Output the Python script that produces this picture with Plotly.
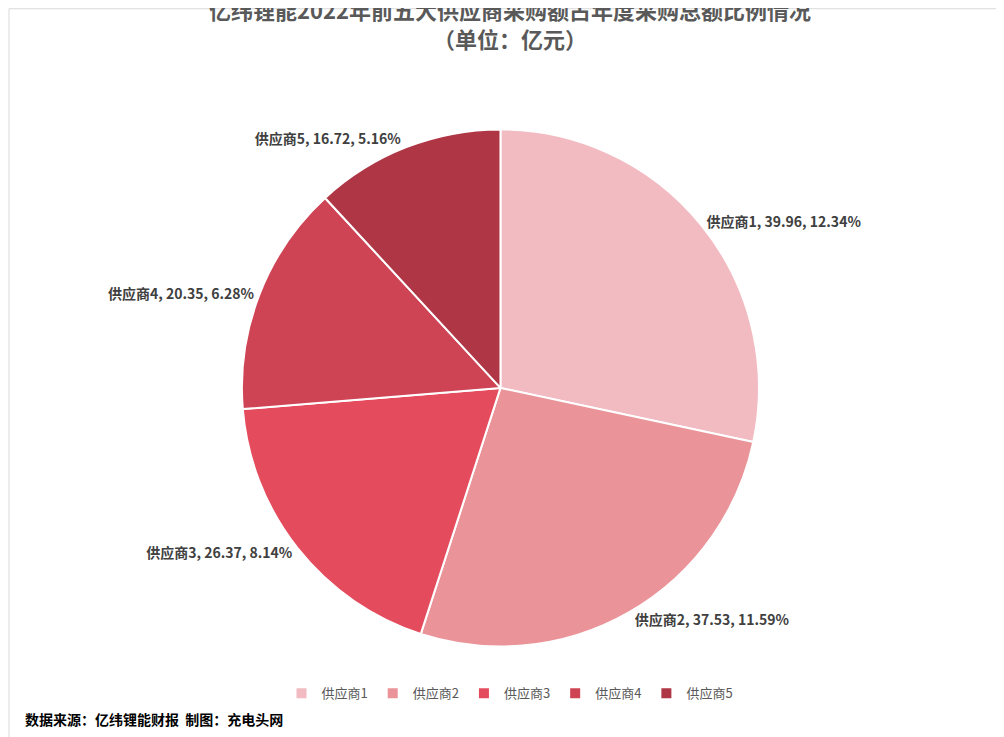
import plotly.graph_objects as go

suppliers = ["供应商1", "供应商2", "供应商3", "供应商4", "供应商5"]
amounts = [39.96, 37.53, 26.37, 20.35, 16.72]
shares = ["12.34%", "11.59%", "8.14%", "6.28%", "5.16%"]
colors = ["#F2BBC1", "#EA9399", "#E44C5E", "#CF4455", "#AE3645"]

texts = [f"<b>{s}, {a:.2f}, {p}</b>" for s, a, p in zip(suppliers, amounts, shares)]

fig = go.Figure(go.Pie(
    labels=suppliers, values=amounts, text=texts, textinfo="text",
    textposition="outside", sort=False, direction="clockwise", rotation=0,
    marker=dict(colors=colors, line=dict(color="white", width=2)),
    textfont=dict(size=14, color="#404040", family="Noto Sans CJK SC"),
    domain=dict(x=[0.233, 0.748], y=[0.133, 0.836]),
))
fig.update_layout(
    width=1004, height=737, margin=dict(l=0, r=0, t=0, b=0),
    paper_bgcolor="white", plot_bgcolor="white",
    font=dict(family="Noto Sans CJK SC"),
    title=dict(text="<b>亿纬锂能2022年前五大供应商采购额占年度采购总额比例情况<br>（单位：亿元）</b>",
               x=0.5, y=0.985, xanchor="center", yanchor="top",
               font=dict(size=22, color="#595959")),
    legend=dict(orientation="h", x=0.5, xanchor="center", y=0.07, yanchor="middle",
                font=dict(size=13, color="#595959"), itemwidth=30, tracegroupgap=0),
    shapes=[dict(type="rect", xref="paper", yref="paper", x0=0.001, y0=0.001, x1=0.999, y1=0.999,
                 line=dict(color="#D9D9D9", width=1))],
    annotations=[dict(text="<b>数据来源：亿纬锂能财报  制图：充电头网</b>", xref="paper", yref="paper",
                      x=0.015, y=0.035, xanchor="left", yanchor="middle", showarrow=False,
                      font=dict(size=14, color="#000000"))],
)
fig.write_html("out.html")
